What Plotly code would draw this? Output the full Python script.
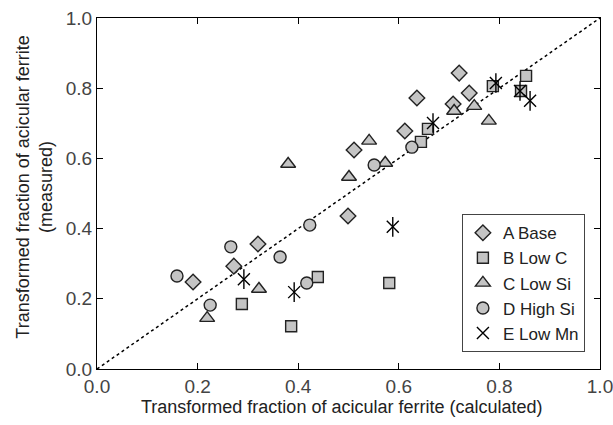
import plotly.graph_objects as go

a_x = [0.191, 0.272, 0.320, 0.499, 0.511, 0.612, 0.636, 0.708, 0.720, 0.740]
a_y = [0.248, 0.293, 0.356, 0.436, 0.624, 0.678, 0.772, 0.755, 0.843, 0.786]

b_x = [0.288, 0.386, 0.439, 0.581, 0.644, 0.658, 0.787, 0.843, 0.853]
b_y = [0.185, 0.122, 0.262, 0.245, 0.647, 0.684, 0.806, 0.792, 0.835]

c_x = [0.219, 0.322, 0.380, 0.501, 0.541, 0.573, 0.710, 0.750, 0.779]
c_y = [0.145, 0.228, 0.584, 0.547, 0.650, 0.587, 0.735, 0.749, 0.707]

d_x = [0.159, 0.225, 0.266, 0.364, 0.417, 0.423, 0.551, 0.626]
d_y = [0.265, 0.182, 0.348, 0.319, 0.245, 0.410, 0.581, 0.632]

e_x = [0.292, 0.392, 0.588, 0.668, 0.793, 0.841, 0.861]
e_y = [0.256, 0.219, 0.405, 0.701, 0.815, 0.792, 0.764]

ticks = [0.0, 0.2, 0.4, 0.6, 0.8, 1.0]
tick_text = ["0.0", "0.2", "0.4", "0.6", "0.8", "1.0"]

x_title = "Transformed fraction of acicular ferrite (calculated)"
y_title = "Transformed fraction of acicular ferrite<br>(measured)"

FILL = "#c4c4c4"
EDGE = "#222222"
FONT = "Liberation Sans"

fig = go.Figure()
fig.add_trace(go.Scatter(x=[0, 1], y=[0, 1], mode="lines",
                         line=dict(color="black", width=1.5, dash="dot"),
                         showlegend=False, hoverinfo="skip"))

def add(xs, ys, name, symbol, size):
    fig.add_trace(go.Scatter(x=xs, y=ys, mode="markers", name=name,
                             marker=dict(symbol=symbol, size=size, color=FILL,
                                         line=dict(color=EDGE, width=1.4))))

add(a_x, a_y, "A Base", "diamond", 12)
add(b_x, b_y, "B Low C", "square", 11)
add(c_x, c_y, "C Low Si", "triangle-up", 13)
add(d_x, d_y, "D High Si", "circle", 12)
fig.add_trace(go.Scatter(x=e_x, y=e_y, mode="markers", name="E Low Mn", legendgroup="E",
                         marker=dict(symbol="x-thin-open", size=12, color="black",
                                     line=dict(color="black", width=1.4))))
fig.add_trace(go.Scatter(x=e_x, y=e_y, mode="markers", name="E Low Mn", legendgroup="E",
                         showlegend=False,
                         marker=dict(symbol="line-ns-open", size=14, color="black",
                                     line=dict(color="black", width=1.4))))

axis_common = dict(range=[0, 1], tickvals=ticks, ticktext=tick_text,
                   ticks="inside", ticklen=6, tickcolor="black", mirror="ticks",
                   showline=True, linecolor="black", linewidth=1,
                   showgrid=False, zeroline=False, automargin=False,
                   ticklabeloverflow="allow",
                   tickfont=dict(family=FONT, size=19, color="#444444"))

fig.update_layout(
    width=613, height=425,
    margin=dict(l=97, r=13, t=18, b=56),
    plot_bgcolor="white", paper_bgcolor="white",
    font=dict(family=FONT, color="#222222"),
    xaxis=dict(**axis_common),
    yaxis=dict(**axis_common),
    legend=dict(x=0.97, y=0.048, xanchor="right", yanchor="bottom",
                bordercolor="#444444", borderwidth=1, bgcolor="white",
                font=dict(family=FONT, size=17, color="#222222"),
                itemwidth=30, tracegroupgap=0),
    annotations=[
        dict(text=x_title, xref="paper", yref="paper", x=0.487, y=-0.108,
             xanchor="center", yanchor="middle", showarrow=False,
             font=dict(family=FONT, size=18, color="#222222")),
        dict(text=y_title, xref="paper", yref="paper", x=-0.125, y=0.517,
             xanchor="center", yanchor="middle", showarrow=False, textangle=-90,
             font=dict(family=FONT, size=18, color="#222222")),
    ],
)

fig.write_html("out.html")
